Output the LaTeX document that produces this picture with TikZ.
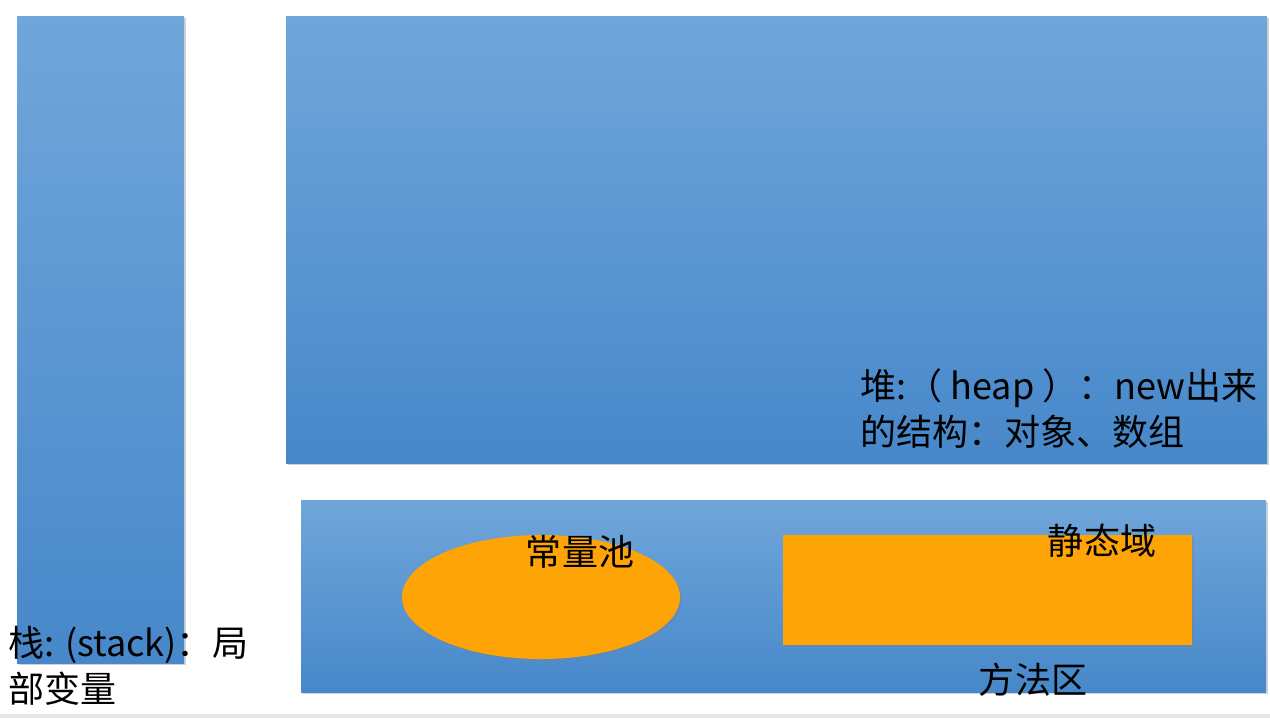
\documentclass[tikz,border=0pt]{standalone}
\usepackage{fontspec}
\setmainfont{Noto Sans CJK SC}
\usetikzlibrary{shadows}
\definecolor{areatop}{HTML}{70A6DA}
\definecolor{areabot}{HTML}{4788CA}
\definecolor{partorange}{HTML}{FFA406}

\begin{document}
\begin{tikzpicture}[x=0.02cm, y=-0.02cm,
  area/.style={top color=areatop, bottom color=areabot,
    drop shadow={shadow xshift=1.2pt, shadow yshift=-1.2pt, opacity=0.35}},
  part/.style={fill=partorange,
    drop shadow={shadow xshift=1pt, shadow yshift=-1pt, opacity=0.35}},
  lbl/.style={inner sep=0pt, align=left, font=\fontsize{20.5}{26}\selectfont}]
\useasboundingbox (0,0) rectangle (1270,718);
\fill[black!10] (0,714) rectangle (1270,718);

% stack, heap and method area
\path[area] (17,16) rectangle (184,663);
\path[area] (286,16) rectangle (1267,463);
\path[area] (301,500) rectangle (1266,692);

% parts of the method area
\path[part] (541,597) ellipse [x radius=139, y radius=62];
\path[part] (783,535) rectangle (1192,645);

\node (stack) at (8,702) [lbl, anchor=base west] {栈: (stack)：局\\部变量};
\node (heap) at (860,445) [lbl, anchor=base west] {堆:（ heap ）：new出来\\的结构：对象、数组};
\node (pool) at (580,565) [lbl, anchor=base] {常量池};
\node (static) at (1102,554) [lbl, anchor=base] {静态域};
\node (method) at (1033,693) [lbl, anchor=base] {方法区};
\end{tikzpicture}
\end{document}
